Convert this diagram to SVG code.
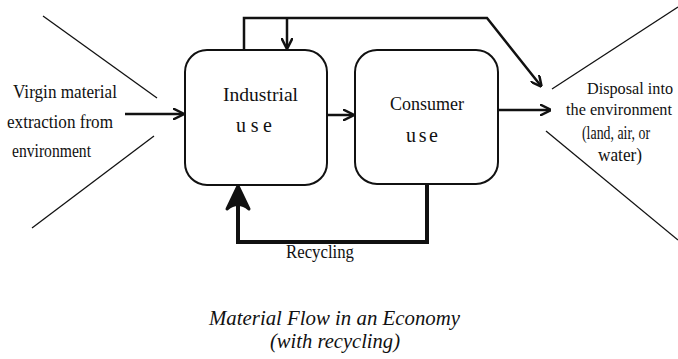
<svg xmlns="http://www.w3.org/2000/svg" width="678" height="359" viewBox="0 0 678 359">
  <style>
    text { font-family: "Liberation Serif", "Times New Roman", serif; fill: #111; }
    .t { font-size: 18px; }
    .ts { font-size: 16.5px; }
    .lb { font-size: 19.5px; }
    .sp { font-size: 20px; }
    .cap { font-size: 20px; font-style: italic; }
    .box { fill: #fff; stroke: #111; stroke-width: 2; }
    .thin { stroke: #111; stroke-width: 1.3; fill: none; }
    .flow { stroke: #111; stroke-width: 2.5; fill: none; }
    .heavy { stroke: #111; stroke-width: 4; fill: none; }
  </style>
  <defs>
    <marker id="arr" viewBox="0 0 10 10" refX="9" refY="5" markerWidth="4.5" markerHeight="4.5" orient="auto" markerUnits="strokeWidth">
      <path d="M0,0 L10,5 L0,10" fill="none" stroke="#111" stroke-width="2.2"/>
    </marker>
  </defs>

  <rect width="678" height="359" fill="#fff"/>

  <!-- environment wedges -->
  <g id="source-env">
    <line class="thin" x1="43" y1="16" x2="157" y2="98"/>
    <line class="thin" x1="154" y1="136" x2="32" y2="228"/>
    <text class="t" x="13" y="98" textLength="104" lengthAdjust="spacingAndGlyphs">Virgin material</text>
    <text class="t" x="7" y="128" textLength="106" lengthAdjust="spacingAndGlyphs">extraction from</text>
    <text class="t" x="12" y="157" textLength="79" lengthAdjust="spacingAndGlyphs">environment</text>
  </g>

  <g id="sink-env">
    <line class="thin" x1="552" y1="89" x2="678" y2="7"/>
    <line class="thin" x1="546" y1="131" x2="678" y2="240"/>
    <text class="ts" x="587" y="94" textLength="86" lengthAdjust="spacingAndGlyphs">Disposal into</text>
    <text class="ts" x="566" y="115" textLength="106" lengthAdjust="spacingAndGlyphs">the environment</text>
    <text class="t" x="582" y="139" textLength="68" lengthAdjust="spacingAndGlyphs">(land, air, or</text>
    <text class="t" x="598" y="161" textLength="44" lengthAdjust="spacingAndGlyphs">water)</text>
  </g>

  <!-- process boxes -->
  <g id="industrial">
    <rect class="box" x="185" y="50" width="142" height="135" rx="22" ry="22"/>
    <text class="lb" x="223" y="101" textLength="75" lengthAdjust="spacingAndGlyphs">Industrial</text>
    <text class="sp" x="236" y="132" textLength="36" lengthAdjust="spacing">use</text>
  </g>

  <g id="consumer">
    <rect class="box" x="355" y="50" width="143" height="134" rx="22" ry="22"/>
    <text class="lb" x="390" y="110" textLength="74" lengthAdjust="spacingAndGlyphs">Consumer</text>
    <text class="sp" x="406" y="142" textLength="32" lengthAdjust="spacing">use</text>
  </g>

  <!-- flows -->
  <g id="connectors">
    <line class="flow" x1="125" y1="114" x2="183" y2="114" marker-end="url(#arr)"/>
    <line class="flow" x1="327" y1="115" x2="353" y2="115" marker-end="url(#arr)"/>
    <line class="flow" x1="498" y1="110" x2="550" y2="110" marker-end="url(#arr)"/>
    <polyline class="flow" points="244,50 244,18 487,18 541,86" marker-end="url(#arr)"/>
    <line class="flow" x1="287" y1="18" x2="287" y2="48" marker-end="url(#arr)"/>
    <polyline class="heavy" points="427,185 427,242 238,242 238,200"/>
    <path d="M238,186 L227,209 Q238,200 249,209 Z" fill="#111" stroke="#111" stroke-width="3" stroke-linejoin="round"/>
    <text class="t" x="286" y="258" textLength="68" lengthAdjust="spacingAndGlyphs">Recycling</text>
  </g>

  <!-- caption -->
  <g id="caption">
    <text class="cap" x="209" y="325" textLength="251" lengthAdjust="spacingAndGlyphs">Material Flow in an Economy</text>
    <text class="cap" x="270" y="348" textLength="130" lengthAdjust="spacingAndGlyphs">(with recycling)</text>
  </g>
</svg>
